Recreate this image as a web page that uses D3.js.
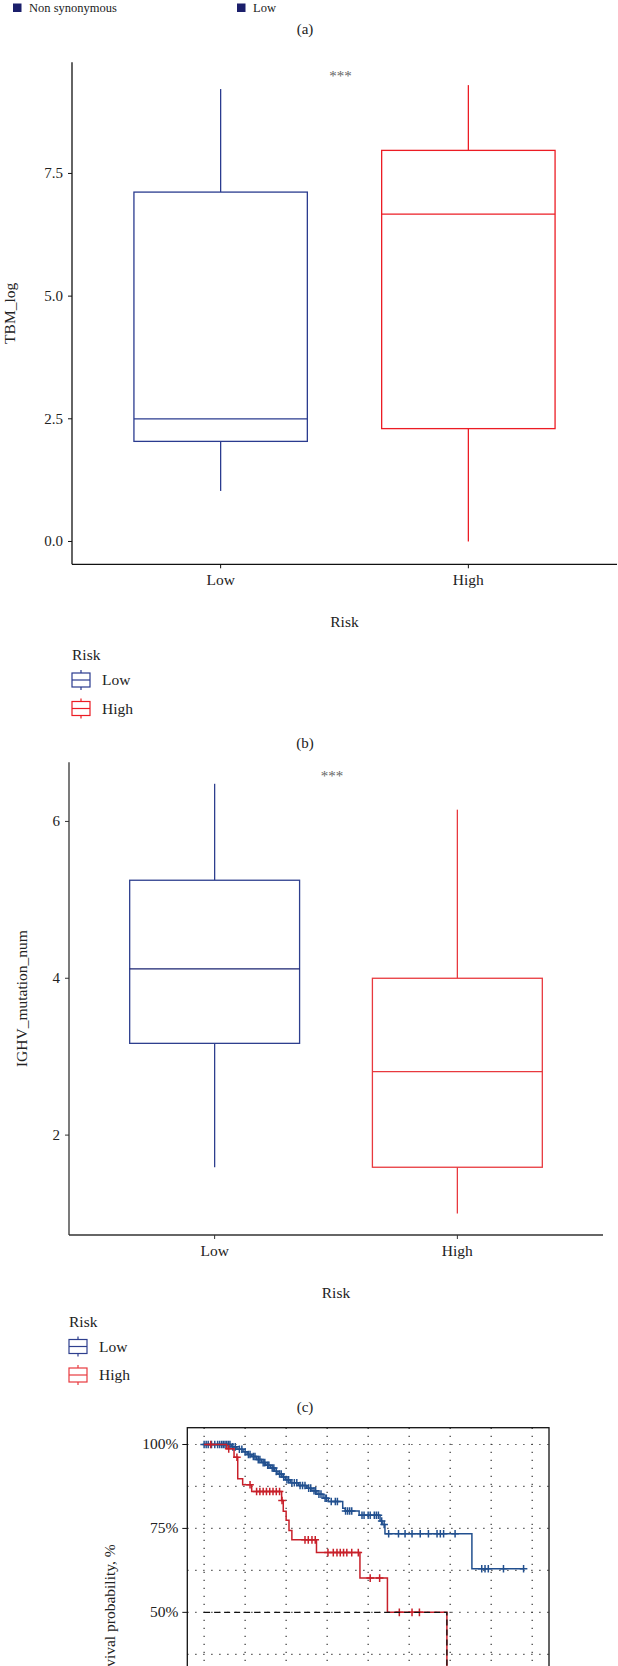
<!DOCTYPE html>
<html>
<head>
<meta charset="utf-8">
<script src="https://cdn.jsdelivr.net/npm/d3@7"></script>
<style>
  body { margin: 0; background: #fff; }
  svg { display: block; }
</style>
</head>
<body>
<script>
// ---- data ----
const topLegendLabels = ["Non synonymous", "Low"];
const panelLabels = ["(a)", "(b)", "(c)"];
const riskGroups = ["Low", "High"];

// box stats: [whisker low, q1, median, q3, whisker high]
const tbmLow = [1.03, 2.04, 2.50, 7.12, 9.22];
const tbmHigh = [0.0, 2.30, 6.67, 7.97, 9.30];
const tbmTicks = [0, 2.5, 5, 7.5];

const ighvLow = [1.59, 3.17, 4.12, 5.25, 6.48];
const ighvHigh = [1.0, 1.59, 2.81, 4.0, 6.15];
const ighvTicks = [2, 4, 6];

// Kaplan-Meier steps [time, survival %]
const kmLowSteps = [[0, 100], [0.67, 99.3], [0.80, 98.6], [0.95, 97.8], [1.05, 97.0], [1.16, 96.4],
  [1.28, 95.5], [1.40, 94.6], [1.50, 93.8], [1.62, 93.0], [1.72, 92.0], [1.80, 91.2], [1.90, 90.3],
  [1.98, 89.5], [2.10, 88.6], [2.30, 87.8], [2.50, 87.0], [2.63, 86.2], [2.75, 85.2], [2.90, 84.0],
  [3.03, 83.0], [3.38, 81.0], [3.44, 80.2], [3.78, 78.9], [4.29, 77.2], [4.34, 76.2], [4.41, 73.4],
  [6.53, 63.0], [7.79, 63.0]];
const kmLowCensor = [0.0, 0.05, 0.1, 0.18, 0.26, 0.33, 0.38, 0.43, 0.47, 0.51, 0.55, 0.59, 0.63,
  0.7, 0.76, 0.86, 0.92, 1.0, 1.08, 1.12, 1.2, 1.24, 1.32, 1.36, 1.44, 1.48, 1.55, 1.58, 1.66, 1.7,
  1.76, 1.84, 1.88, 1.94, 2.02, 2.06, 2.14, 2.2, 2.26, 2.34, 2.4, 2.46, 2.55, 2.6, 2.68, 2.72, 2.8,
  2.85, 2.95, 2.98, 3.1, 3.2, 3.25, 3.45, 3.5, 3.55, 3.6, 3.85, 3.9, 4.0, 4.05, 4.15, 4.2, 4.25,
  4.33, 4.39, 4.5, 4.74, 4.9, 5.07, 5.27, 5.47, 5.68, 5.76, 5.84, 6.12, 6.77, 6.85, 6.93, 7.3, 7.79];

const kmHighSteps = [[0, 100], [0.55, 98.7], [0.73, 96.2], [0.82, 89.8], [0.94, 88.0], [1.16, 86.0],
  [1.89, 83.3], [1.93, 80.1], [2.0, 77.4], [2.07, 74.4], [2.14, 71.6], [2.74, 67.8], [3.80, 60.2],
  [4.47, 50.0], [5.92, 0]];
const kmHighCensor = [0.16, 0.6, 0.8, 1.12, 1.28, 1.36, 1.44, 1.52, 1.6, 1.68, 1.76, 1.84, 1.9,
  2.46, 2.54, 2.63, 2.71, 3.02, 3.15, 3.24, 3.32, 3.4, 3.48, 3.6, 3.76, 4.05, 4.28, 4.76, 5.07, 5.25];

const kmMedianHigh = 5.92;
const kmYTicks = [0, 25, 50, 75, 100];
const kmYGrid = [0, 12.5, 25, 37.5, 50, 62.5, 75, 87.5, 100];
const kmXTicks = [0, 1, 2, 3, 4, 5, 6, 7, 8];

// ---- drawing ----
const W = 618, H = 1666;
const serif = "'Liberation Serif', 'DejaVu Serif', serif";
const navy = "#1b1f6b";

const svg = d3.select("body").append("svg")
  .attr("width", W).attr("height", H)
  .style("font-family", serif);

// top legend, cut off from panel (a)
const topX = [13, 237];
topLegendLabels.forEach((lab, i) => {
  svg.append("rect").attr("x", topX[i]).attr("y", 3.5).attr("width", 8.5).attr("height", 8.5).attr("fill", navy);
  svg.append("text").attr("x", topX[i] + 16).attr("y", 11.5).attr("font-size", 12.5).attr("fill", "#222").text(lab);
});

const panelY = [29, 743, 1407];
panelLabels.forEach((lab, i) => {
  svg.append("text").attr("x", 305).attr("y", panelY[i] + 5).attr("text-anchor", "middle")
    .attr("font-size", 15).attr("fill", "#222").text(lab);
});

function drawBoxPanel(cfg) {
  const g = svg.append("g");
  const all = cfg.stats.flat();
  const lo = d3.min(all), hi = d3.max(all), pad = (hi - lo) * 0.05;
  const y = d3.scaleLinear().domain([lo - pad, hi + pad]).range([cfg.bottom, cfg.top]);
  const x = d3.scalePoint().domain(riskGroups).range([cfg.left, cfg.right]).padding(0.6);
  const bw = x.step() * 0.7;

  cfg.stats.forEach((s, i) => {
    const cx = x(riskGroups[i]);
    const col = cfg.colors[i];
    const bg = g.append("g").attr("stroke", col).attr("stroke-width", 1.3).attr("fill", "none");
    bg.append("line").attr("x1", cx).attr("x2", cx).attr("y1", y(s[0])).attr("y2", y(s[1]));
    bg.append("line").attr("x1", cx).attr("x2", cx).attr("y1", y(s[3])).attr("y2", y(s[4]));
    bg.append("rect").attr("x", cx - bw / 2).attr("y", y(s[3]))
      .attr("width", bw).attr("height", y(s[1]) - y(s[3])).attr("fill", "#fff");
    bg.append("line").attr("x1", cx - bw / 2).attr("x2", cx + bw / 2)
      .attr("y1", y(s[2])).attr("y2", y(s[2])).attr("stroke", cfg.medianColors[i]);
  });

  // axes
  g.append("line").attr("x1", cfg.left).attr("x2", cfg.left).attr("y1", cfg.top).attr("y2", cfg.bottom)
    .attr("stroke", cfg.axisColor).attr("stroke-width", 1.3);
  g.append("line").attr("x1", cfg.left).attr("x2", cfg.right).attr("y1", cfg.bottom).attr("y2", cfg.bottom)
    .attr("stroke", cfg.axisColor).attr("stroke-width", 1.3);

  cfg.ticks.forEach(t => {
    g.append("line").attr("x1", cfg.left - 4).attr("x2", cfg.left).attr("y1", y(t)).attr("y2", y(t))
      .attr("stroke", cfg.axisColor).attr("stroke-width", 1);
    g.append("text").attr("x", cfg.left - 9).attr("y", y(t) + 5).attr("text-anchor", "end")
      .attr("font-size", 15).attr("fill", "#222").text(cfg.fmt(t));
  });
  riskGroups.forEach(r => {
    g.append("line").attr("x1", x(r)).attr("x2", x(r)).attr("y1", cfg.bottom).attr("y2", cfg.bottom + 4)
      .attr("stroke", cfg.axisColor).attr("stroke-width", 1);
    g.append("text").attr("x", x(r)).attr("y", cfg.bottom + 21).attr("text-anchor", "middle")
      .attr("font-size", 15.5).attr("fill", "#222").text(r);
  });

  const midX = (cfg.left + cfg.right) / 2;
  g.append("text").attr("x", midX).attr("y", cfg.bottom + 63).attr("text-anchor", "middle")
    .attr("font-size", 15.5).attr("fill", "#222").text("Risk");
  g.append("text").attr("x", midX - 4).attr("y", cfg.top + 19).attr("text-anchor", "middle")
    .attr("font-size", 15).attr("fill", "#666").text("***");
  g.append("text")
    .attr("transform", `translate(${cfg.yTitleX},${(cfg.top + cfg.bottom) / 2}) rotate(-90)`)
    .attr("text-anchor", "middle").attr("font-size", 15.5).attr("fill", "#222").text(cfg.yTitle);

  // legend
  const lx = cfg.left;
  g.append("text").attr("x", lx).attr("y", cfg.legendY + 5).attr("font-size", 15.5).attr("fill", "#222").text("Risk");
  riskGroups.forEach((r, i) => {
    const ky = cfg.legendY + 25 + i * 28.5;
    const col = cfg.colors[i];
    const kg = g.append("g").attr("stroke", col).attr("stroke-width", 1.2).attr("fill", "#fff");
    kg.append("line").attr("x1", lx + 9).attr("x2", lx + 9).attr("y1", ky - 10).attr("y2", ky + 10);
    kg.append("rect").attr("x", lx).attr("y", ky - 7).attr("width", 18).attr("height", 14);
    kg.append("line").attr("x1", lx).attr("x2", lx + 18).attr("y1", ky).attr("y2", ky);
    g.append("text").attr("x", lx + 30).attr("y", ky + 5).attr("font-size", 15.5).attr("fill", "#222").text(r);
  });
}

drawBoxPanel({
  stats: [tbmLow, tbmHigh], ticks: tbmTicks, fmt: d3.format(".1f"),
  top: 62.3, bottom: 564.3, left: 72, right: 617,
  colors: ["#2a3b8f", "#ec1c24"], medianColors: ["#2a3b8f", "#ec1c24"], axisColor: "#111",
  yTitle: "TBM_log", yTitleX: 15, legendY: 655
});

drawBoxPanel({
  stats: [ighvLow, ighvHigh], ticks: ighvTicks, fmt: d3.format("d"),
  top: 762.3, bottom: 1235, left: 69, right: 603,
  colors: ["#2e3f8e", "#e8393e"], medianColors: ["#1a2370", "#e8393e"], axisColor: "#333",
  yTitle: "IGHV_mutation_num", yTitleX: 27, legendY: 1321.5
});

// ---- Kaplan-Meier panel ----
const km = { left: 187.3, right: 549, top: 1427.7, bottom: 1797 };
const kx = d3.scaleLinear().domain([-0.41, 8.41]).range([km.left, km.right]);
const ky = d3.scaleLinear().domain([-5, 105]).range([km.bottom, km.top]);
const kg = svg.append("g");

kmXTicks.forEach(t => {
  kg.append("line").attr("x1", kx(t)).attr("x2", kx(t)).attr("y1", km.top).attr("y2", km.bottom)
    .attr("stroke", "#333").attr("stroke-width", 1.2).attr("stroke-dasharray", "1.2,6.8");
});
kmYGrid.forEach(v => {
  kg.append("line").attr("x1", km.left).attr("x2", km.right).attr("y1", ky(v)).attr("y2", ky(v))
    .attr("stroke", "#333").attr("stroke-width", 1.2).attr("stroke-dasharray", "1.2,6.8");
});

const stepLine = d3.line().x(d => kx(d[0])).y(d => ky(d[1])).curve(d3.curveStepAfter);
function survAt(steps, t) {
  let s = steps[0][1];
  steps.forEach(d => { if (d[0] <= t) s = d[1]; });
  return s;
}
function drawCurve(steps, censor, col) {
  kg.append("path").datum(steps).attr("d", stepLine)
    .attr("fill", "none").attr("stroke", col).attr("stroke-width", 1.5);
  censor.forEach(t => {
    const cx = kx(t), cy = ky(survAt(steps, t));
    kg.append("path").attr("d", `M${cx - 3.8},${cy}H${cx + 3.8}M${cx},${cy - 3.8}V${cy + 3.8}`)
      .attr("stroke", col).attr("stroke-width", 1.5);
  });
}
drawCurve(kmLowSteps, kmLowCensor, "#22508f");
drawCurve(kmHighSteps, kmHighCensor, "#c8202a");

// median survival guide
kg.append("path")
  .attr("d", `M${kx(0)},${ky(50)}H${kx(kmMedianHigh)}V${ky(0)}`)
  .attr("fill", "none").attr("stroke", "#111").attr("stroke-width", 1.3).attr("stroke-dasharray", "6,4");

kg.append("rect").attr("x", km.left).attr("y", km.top)
  .attr("width", km.right - km.left).attr("height", km.bottom - km.top)
  .attr("fill", "none").attr("stroke", "#111").attr("stroke-width", 1.3);

// only ticks that fall inside the page are drawn
kmYTicks.filter(v => ky(v) < H - 10).forEach(v => {
  kg.append("line").attr("x1", km.left - 5).attr("x2", km.left).attr("y1", ky(v)).attr("y2", ky(v))
    .attr("stroke", "#111").attr("stroke-width", 1);
  kg.append("text").attr("x", km.left - 9).attr("y", ky(v) + 5).attr("text-anchor", "end")
    .attr("font-size", 15.5).attr("fill", "#222").text(v + "%");
});
kg.append("text")
  .attr("transform", `translate(115,${(km.top + km.bottom) / 2 + 4}) rotate(-90)`)
  .attr("text-anchor", "middle").attr("font-size", 15.5).attr("fill", "#222")
  .text("Survival probability, %");
</script>
</body>
</html>
